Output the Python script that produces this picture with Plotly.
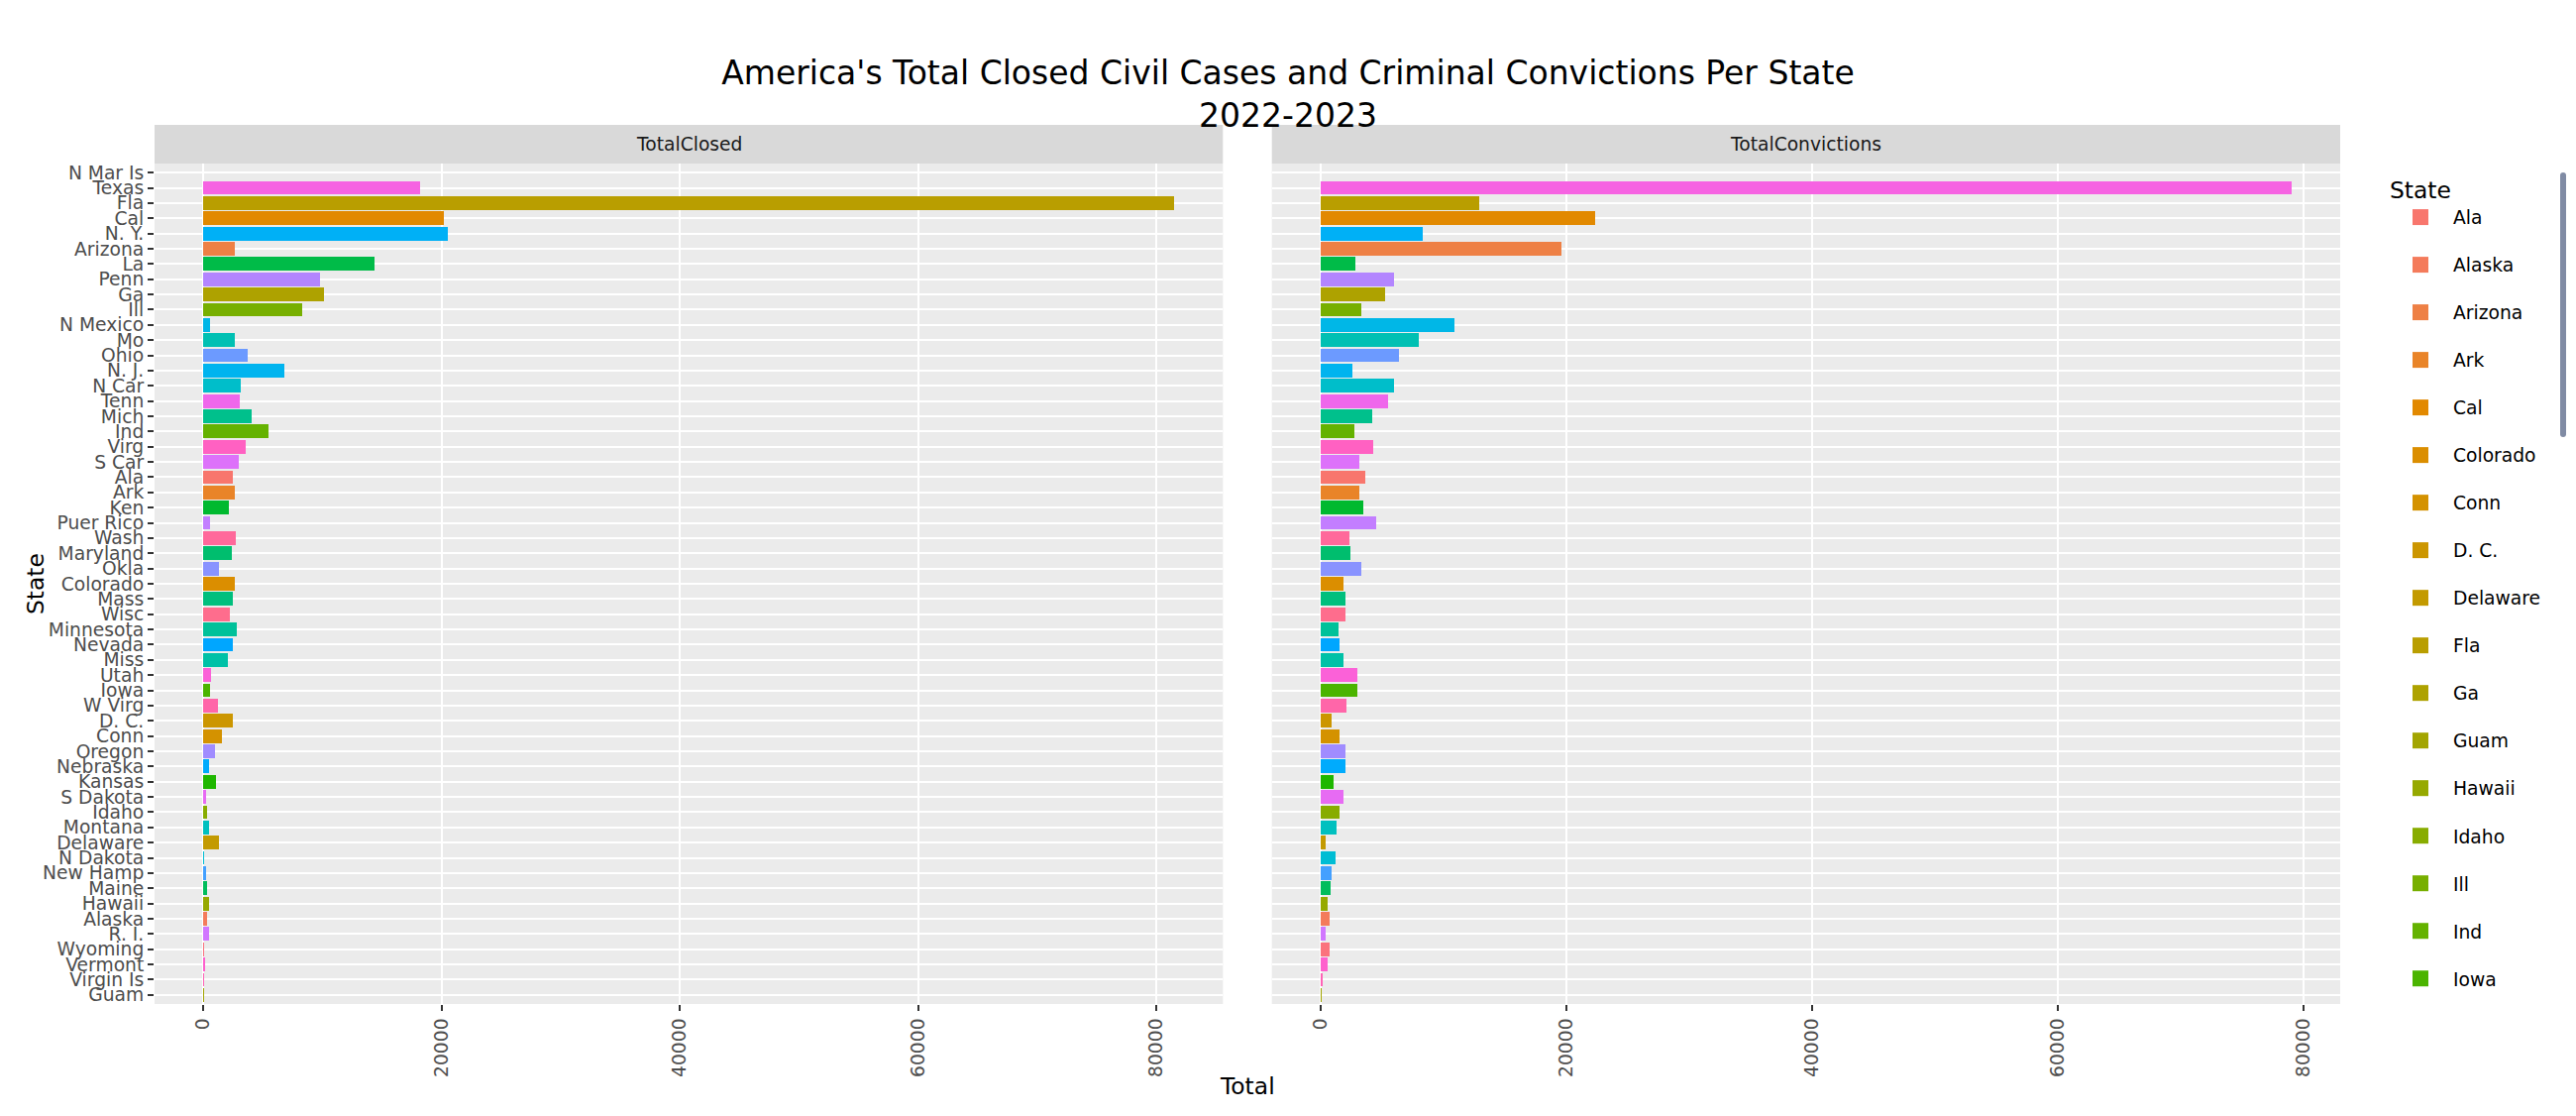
import math
import plotly.graph_objects as go

# ---------------- data ----------------
states = ["N Mar Is", "Texas", "Fla", "Cal", "N. Y.", "Arizona", "La", "Penn", "Ga", "Ill",
          "N Mexico", "Mo", "Ohio", "N. J.", "N Car", "Tenn", "Mich", "Ind", "Virg", "S Car",
          "Ala", "Ark", "Ken", "Puer Rico", "Wash", "Maryland", "Okla", "Colorado", "Mass", "Wisc",
          "Minnesota", "Nevada", "Miss", "Utah", "Iowa", "W Virg", "D. C.", "Conn", "Oregon", "Nebraska",
          "Kansas", "S Dakota", "Idaho", "Montana", "Delaware", "N Dakota", "New Hamp", "Maine", "Hawaii", "Alaska",
          "R. I.", "Wyoming", "Vermont", "Virgin Is", "Guam"]

total_closed = [0, 18200, 81500, 20200, 20500, 2700, 14350, 9800, 10150, 8350,
                550, 2700, 3700, 6800, 3150, 3100, 4100, 5500, 3600, 2950,
                2500, 2650, 2200, 600, 2750, 2400, 1350, 2650, 2500, 2250,
                2800, 2500, 2100, 700, 600, 1250, 2500, 1550, 1000, 500,
                1050, 220, 330, 520, 1300, 80, 260, 300, 480, 300,
                520, 70, 150, 50, 20]

total_convictions = [0, 79000, 12900, 22350, 8300, 19600, 2850, 6000, 5200, 3300,
                     10850, 8000, 6400, 2550, 6000, 5500, 4150, 2750, 4300, 3150,
                     3650, 3150, 3500, 4550, 2300, 2450, 3300, 1850, 2000, 2000,
                     1450, 1550, 1850, 3000, 2950, 2100, 900, 1500, 2000, 2000,
                     1050, 1850, 1500, 1300, 400, 1200, 900, 800, 600, 700,
                     430, 720, 540, 110, 70]

# factor levels (legend order)
legend_levels = ["Ala", "Alaska", "Arizona", "Ark", "Cal", "Colorado", "Conn", "D. C.", "Delaware", "Fla",
                 "Ga", "Guam", "Hawaii", "Idaho", "Ill", "Ind", "Iowa", "Kansas", "Ken", "La",
                 "Maine", "Maryland", "Mass", "Mich", "Minnesota", "Miss", "Mo", "Montana", "N Car", "N Dakota",
                 "N Mar Is", "N Mexico", "N. J.", "N. Y.", "Nebraska", "Nevada", "New Hamp", "Ohio", "Okla", "Oregon",
                 "Penn", "Puer Rico", "R. I.", "S Car", "S Dakota", "Tenn", "Texas", "Utah", "Vermont", "Virg",
                 "Virgin Is", "W Virg", "Wash", "Wisc", "Wyoming"]

facets = ["TotalClosed", "TotalConvictions"]
x_ticks = [0, 20000, 40000, 60000, 80000]
title_text = "America's Total Closed Civil Cases and Criminal Convictions Per State<br>2022-2023"


# ---------------- ggplot2 hue palette ----------------
def hcl_hex(h, c, l):
    WHITE_Y, WHITE_u, WHITE_v = 1.0, 0.1978398, 0.4683363
    hr = math.radians(h)
    L, U, V = l, c * math.cos(hr), c * math.sin(hr)
    if L <= 0:
        X = Y = Z = 0.0
    else:
        Y = WHITE_Y * (((L + 16) / 116) ** 3 if L > 7.999592 else L / 903.3)
        u = U / (13 * L) + WHITE_u
        v = V / (13 * L) + WHITE_v
        X = 9.0 * Y * u / (4 * v)
        Z = -X / 3 - 5 * Y + 3 * Y / v

    def g(t):
        t = 1.055 * t ** (1 / 2.4) - 0.055 if t > 0.00304 else 12.92 * t
        return min(max(t, 0.0), 1.0)

    r = g(3.240479 * X - 1.537150 * Y - 0.498535 * Z)
    gg = g(-0.969256 * X + 1.875992 * Y + 0.041556 * Z)
    b = g(0.055648 * X - 0.204043 * Y + 1.057311 * Z)
    return "#%02X%02X%02X" % (round(r * 255), round(gg * 255), round(b * 255))


n = len(legend_levels)
palette = {lev: hcl_hex(15 + 360 * i / n, 100, 65) for i, lev in enumerate(legend_levels)}

# ---------------- figure ----------------
W, H = 2600, 1126
FONT = "DejaVu Sans"
L_M, R_M, T_M, B_M = 156, 238, 126, 113
plot_w = W - L_M - R_M
plot_h = H - T_M - B_M
panel_w = 1078.3
dom1 = [0, panel_w / plot_w]
dom2 = [1 - panel_w / plot_w, 1]
strip_h = 39
ydom_top = 1 - strip_h / plot_h

fig = go.Figure()

for s, v1, v2 in zip(states, total_closed, total_convictions):
    col = palette[s]
    fig.add_trace(go.Bar(orientation="h", y=[s], x=[v1], width=0.9, marker=dict(color=col, line=dict(width=0)),
                         xaxis="x", yaxis="y", name=s, legendgroup=s, showlegend=False))
    fig.add_trace(go.Bar(orientation="h", y=[s], x=[v2], width=0.9, marker=dict(color=col, line=dict(width=0)),
                         xaxis="x2", yaxis="y2", name=s, legendgroup=s, showlegend=False))

# legend entries (alphabetical factor order)
for lev in legend_levels:
    fig.add_trace(go.Scatter(x=[None], y=[None], mode="markers", name=lev, legendgroup=lev,
                             marker=dict(symbol="square", size=16, color=palette[lev]),
                             xaxis="x", yaxis="y", showlegend=True))

cat_array = list(reversed(states))
tick_text = [str(t) for t in x_ticks]
grid = dict(showgrid=True, gridcolor="white", gridwidth=1.7, zeroline=False, showline=False)
tickfont = dict(family=FONT, size=18.7, color="#4D4D4D")


def xax(domain, vals, anchor):
    m = max(vals)
    return dict(domain=domain, anchor=anchor, range=[-0.05 * m, 1.05 * m], tickmode="array",
                tickvals=x_ticks, ticktext=tick_text, tickangle=-90, ticks="outside", ticklen=6,
                tickwidth=1.5, tickcolor="#333333", tickfont=tickfont, automargin=False, **grid)


yax_common = dict(type="category", categoryorder="array", categoryarray=cat_array,
                  tickmode="array", tickvals=states, ticktext=states,
                  range=[-0.6, len(states) - 0.4], domain=[0, ydom_top], automargin=False, **grid)

fig.update_layout(
    width=W, height=H, autosize=False,
    margin=dict(l=L_M, r=R_M, t=T_M, b=B_M, pad=0),
    paper_bgcolor="white", plot_bgcolor="#EBEBEB",
    barmode="overlay", bargap=0,
    font=dict(family=FONT, color="#000000"),
    title=dict(text=title_text, x=0.5, xref="container", xanchor="center",
               y=1 - 85 / H, yref="container", yanchor="middle",
               font=dict(family=FONT, size=33, color="#000000")),
    xaxis=xax(dom1, total_closed, "y"),
    xaxis2=xax(dom2, total_convictions, "y2"),
    yaxis=dict(anchor="x", ticks="outside", ticklen=6, tickwidth=1.5, tickcolor="#333333",
               tickfont=tickfont, **yax_common),
    yaxis2=dict(anchor="x2", matches="y", showticklabels=False, ticks="", **yax_common),
    legend=dict(title=dict(text="State", font=dict(family=FONT, size=23.4, color="#000000")),
                font=dict(family=FONT, size=18.7, color="#000000"),
                x=(2410 - L_M) / plot_w, xanchor="left", y=(H - B_M - 170) / plot_h, yanchor="top",
                tracegroupgap=20.7, itemwidth=56, bgcolor="white", borderwidth=0),
    hovermode="closest",
)

# limit legend height to the visible area (newer plotly.js supports this)
try:
    fig.update_layout(legend_maxheight=843)
except Exception:
    pass

# facet strips
for dom, label in zip([dom1, dom2], facets):
    fig.add_shape(type="rect", xref="paper", yref="paper", x0=dom[0], x1=dom[1], y0=ydom_top, y1=1,
                  fillcolor="#D9D9D9", line=dict(width=0), layer="below")
    fig.add_annotation(text=label, xref="paper", yref="paper", x=(dom[0] + dom[1]) / 2,
                       y=(ydom_top + 1) / 2, xanchor="center", yanchor="middle", showarrow=False,
                       font=dict(family=FONT, size=18.7, color="#1A1A1A"))

# axis titles
fig.add_annotation(text="Total", xref="paper", yref="paper", x=0.5, y=-(1096 - (H - B_M)) / plot_h,
                   xanchor="center", yanchor="middle", showarrow=False,
                   font=dict(family=FONT, size=23.4, color="#000000"))
fig.add_annotation(text="State", xref="paper", yref="paper", x=-(L_M - 36) / plot_w, y=ydom_top / 2,
                   xanchor="center", yanchor="middle", textangle=-90, showarrow=False,
                   font=dict(family=FONT, size=23.4, color="#000000"))

fig.write_html("out.html")
